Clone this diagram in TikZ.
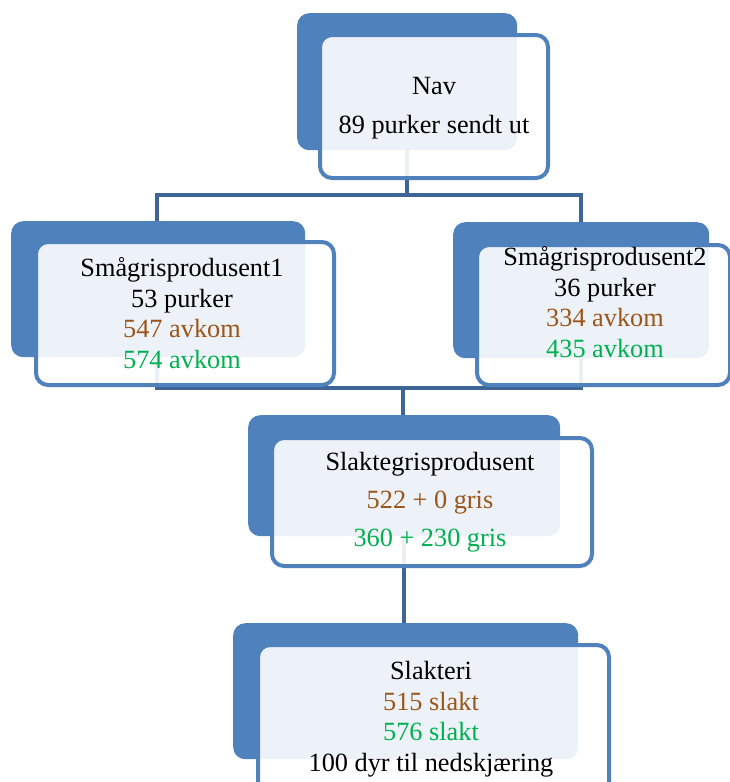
\documentclass[tikz,border=0pt]{standalone}
\usepackage{fontspec}
\setmainfont{Liberation Serif}
\definecolor{accent}{RGB}{79,129,189}
\definecolor{linkblue}{RGB}{63,100,150}
\definecolor{brun}{RGB}{155,85,25}
\definecolor{gronn}{RGB}{0,176,80}
\tikzset{
  backbox/.style={rectangle, rounded corners=12pt, fill=accent, anchor=north west, inner sep=0pt},
  frontbox/.style={rectangle, rounded corners=12pt, draw=accent, line width=4pt, fill=white, fill opacity=0.9, anchor=north west, inner sep=0pt},
  boxtext/.style={align=center, font=\fontsize{26.3}{30.5}\selectfont, text opacity=1},
  link/.style={draw=linkblue, line width=4.5pt}
}
\begin{document}
\begin{tikzpicture}[x=1pt,y=-1pt]
\useasboundingbox (0,0) rectangle (730,782);
% tree connectors
\coordinate (navdrop) at (407,150);
\coordinate (navjoin) at (407,195);
\coordinate (leftdrop) at (157,222);
\coordinate (rightdrop) at (581,222);
\coordinate (leftup) at (157,357);
\coordinate (rightup) at (581,358);
\coordinate (midjoin) at (403,388);
\coordinate (slaktdown) at (403,416);
\coordinate (slaktup) at (404,536);
\coordinate (slakteridown) at (404,624);
\draw[link] (navdrop) -- (navjoin);
\draw[link] (navjoin) -| (leftdrop);
\draw[link] (navjoin) -| (rightdrop);
\draw[link] (leftup) |- (midjoin);
\draw[link] (rightup) |- (midjoin);
\draw[link] (midjoin) -- (slaktdown);
\draw[link] (slaktup) -- (slakteridown);
% Nav
\node[backbox, minimum width=220pt, minimum height=137pt] (navback) at (297,13) {};
\node[frontbox, minimum width=228pt, minimum height=143pt] (navbox) at (318,33) {};
\node[boxtext] (navtext) at (434,108) {Nav\\[9pt]89 purker sendt ut};
% Smågrisprodusent1
\node[backbox, minimum width=294pt, minimum height=136pt] (sp1back) at (11,221) {};
\node[frontbox, minimum width=298pt, minimum height=143pt] (sp1box) at (34,240) {};
\node[boxtext] (sp1text) at (182,313) {Smågrisprodusent1\\53 purker\\\textcolor{brun}{547 avkom}\\\textcolor{gronn}{574 avkom}};
% Smågrisprodusent2
\node[backbox, minimum width=256pt, minimum height=136pt] (sp2back) at (453,222) {};
\node[frontbox, minimum width=253pt, minimum height=140pt] (sp2box) at (475,243) {};
\node[boxtext] (sp2text) at (605,302) {Smågrisprodusent2\\36 purker\\\textcolor{brun}{334 avkom}\\\textcolor{gronn}{435 avkom}};
% Slaktegrisprodusent
\node[backbox, minimum width=312pt, minimum height=121pt] (sgback) at (248,415) {};
\node[frontbox, minimum width=320pt, minimum height=128pt] (sgbox) at (270,436) {};
\node[boxtext] (sgtext) at (430,502) {Slaktegrisprodusent\\[7.5pt]\textcolor{brun}{522 + 0 gris}\\[7.5pt]\textcolor{gronn}{360 + 230 gris}};
% Slakteri
\node[backbox, minimum width=345pt, minimum height=136pt] (slback) at (233,623) {};
\node[frontbox, minimum width=351pt, minimum height=150pt] (slbox) at (256,643) {};
\node[boxtext] (sltext) at (431,719) {Slakteri\\\textcolor{brun}{515 slakt}\\\textcolor{gronn}{576 slakt}\\100 dyr til nedskjæring};
\end{tikzpicture}
\end{document}
